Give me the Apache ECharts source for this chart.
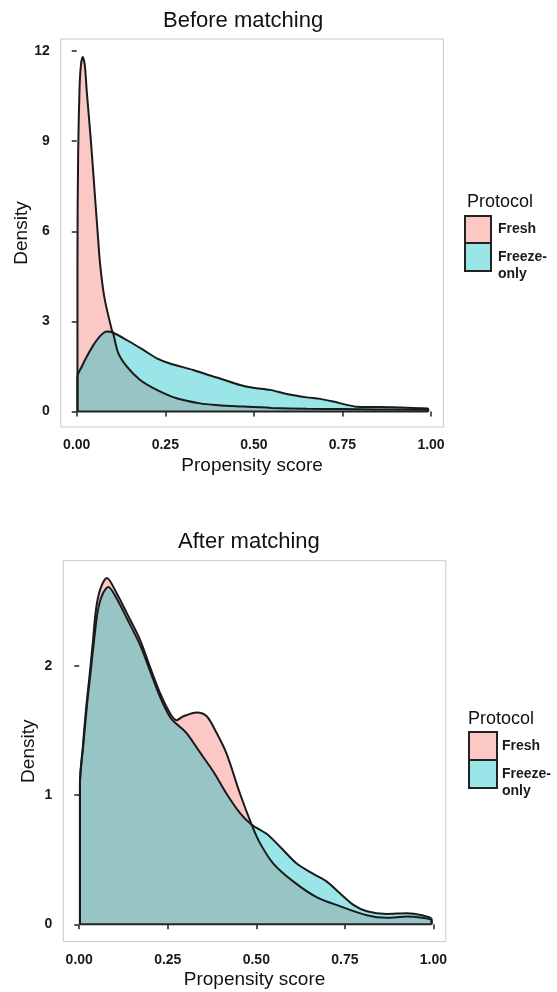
<!DOCTYPE html>
<html>
<head>
<meta charset="utf-8">
<script src="https://cdn.jsdelivr.net/npm/echarts@6/dist/echarts.min.js"></script>
<style>
html,body{margin:0;padding:0;background:#fff;}
#chart{width:557px;height:992px;}
</style>
</head>
<body>
<div id="chart"></div>
<script>
// ---- data ----
var panelTitles = ['Before matching', 'After matching'];
var seriesNames = ['Fresh', 'Freeze-only'];
var legendLabels = ['Fresh', 'Freeze-\nonly'];
var legendTitle = 'Protocol';
var xAxisTitle = 'Propensity score';
var yAxisTitle = 'Density';
var xTicks = [0, 0.25, 0.5, 0.75, 1];
var yTicksBefore = [0, 3, 6, 9, 12];
var yTicksAfter = [0, 1, 2];

// Before matching – density of Fresh
var beforeFresh = [
  [0.002, 0], [0.002, 5.0], [0.004, 8.6], [0.008, 10.8], [0.012, 11.55], [0.017, 11.8],
  [0.023, 11.5], [0.028, 10.7], [0.040, 9.0], [0.050, 7.4], [0.060, 5.8], [0.066, 4.9],
  [0.078, 3.8], [0.099, 2.71], [0.103, 2.6], [0.117, 1.95], [0.141, 1.5], [0.179, 1.05],
  [0.226, 0.72], [0.282, 0.44], [0.348, 0.27], [0.40, 0.21], [0.46, 0.17], [0.55, 0.12],
  [0.65, 0.09], [0.75, 0.08], [0.85, 0.07], [0.95, 0.06], [0.992, 0.05], [0.992, 0]
];
// Before matching – density of Freeze-only
var beforeFreeze = [
  [0.002, 0], [0.002, 1.16], [0.014, 1.49], [0.028, 1.82], [0.047, 2.21], [0.066, 2.51],
  [0.085, 2.66], [0.103, 2.62], [0.141, 2.38], [0.188, 2.05], [0.226, 1.77], [0.263, 1.60],
  [0.329, 1.38], [0.386, 1.16], [0.404, 1.10], [0.461, 0.88], [0.498, 0.79], [0.546, 0.72],
  [0.593, 0.58], [0.649, 0.47], [0.687, 0.42], [0.724, 0.33], [0.762, 0.22], [0.790, 0.16],
  [0.828, 0.15], [0.894, 0.14], [0.969, 0.11], [0.992, 0.10], [0.992, 0]
];
// After matching – density of Fresh
var afterFresh = [
  [0.002, 0], [0.002, 1.10], [0.010, 1.37], [0.019, 1.66], [0.029, 1.92], [0.038, 2.17],
  [0.047, 2.43], [0.059, 2.59], [0.078, 2.68], [0.106, 2.56], [0.134, 2.41], [0.172, 2.20],
  [0.200, 1.99], [0.228, 1.79], [0.257, 1.63], [0.275, 1.58], [0.294, 1.61], [0.332, 1.64],
  [0.360, 1.61], [0.388, 1.48], [0.416, 1.32], [0.454, 1.01], [0.487, 0.77], [0.510, 0.63],
  [0.548, 0.47], [0.605, 0.33], [0.670, 0.21], [0.736, 0.14], [0.812, 0.07], [0.868, 0.05],
  [0.925, 0.06], [0.995, 0.03], [0.995, 0]
];
// After matching – density of Freeze-only
var afterFreeze = [
  [0.002, 0], [0.002, 1.08], [0.012, 1.40], [0.022, 1.70], [0.032, 1.95], [0.042, 2.20],
  [0.052, 2.42], [0.065, 2.55], [0.082, 2.61], [0.106, 2.52], [0.134, 2.37], [0.172, 2.16],
  [0.200, 1.96], [0.228, 1.76], [0.257, 1.60], [0.275, 1.55], [0.303, 1.48], [0.341, 1.33],
  [0.379, 1.18], [0.416, 1.01], [0.454, 0.86], [0.487, 0.77], [0.529, 0.70], [0.567, 0.60],
  [0.614, 0.47], [0.661, 0.39], [0.699, 0.33], [0.736, 0.24], [0.774, 0.15], [0.812, 0.10],
  [0.868, 0.08], [0.925, 0.085], [0.995, 0.04], [0.995, 0]
];

// ---- styling ----
var FONT = '"Liberation Sans", Arial, Helvetica, sans-serif';
var freshFill = 'rgba(248,118,109,0.4)';
var freezeFill = 'rgba(0,191,196,0.4)';
var outline = '#1a1a1a';

function baseline(d) { return [[d[0][0], 0], [d[d.length - 1][0], 0]]; }

function xAxisCfg(gi) {
  return {
    type: 'value', gridIndex: gi, min: -0.045, max: 1.035,
    axisLine: { show: false },
    axisTick: { show: true, length: 5, customValues: xTicks, lineStyle: { color: '#222', width: 1.5 } },
    axisLabel: { customValues: xTicks, margin: 11, fontSize: 14, fontWeight: 'bold', color: '#1a1a1a', fontFamily: FONT,
      formatter: function (v) { return v.toFixed(2); } },
    splitLine: { show: false },
    name: xAxisTitle, nameLocation: 'middle', nameGap: 29, nameMoveOverlap: false,
    nameTextStyle: { fontSize: 19, color: '#111', fontFamily: FONT }
  };
}
function yAxisCfg(gi, min, max, ticks, gap) {
  return {
    type: 'value', gridIndex: gi, min: min, max: max,
    axisLine: { show: false },
    axisTick: { show: true, length: 5, customValues: ticks, lineStyle: { color: '#222', width: 1.5 } },
    axisLabel: { customValues: ticks, margin: 11, fontSize: 14, fontWeight: 'bold', color: '#1a1a1a', fontFamily: FONT },
    splitLine: { show: false },
    name: yAxisTitle, nameLocation: 'middle', nameGap: gap, nameRotate: 90, nameMoveOverlap: false,
    nameTextStyle: { fontSize: 19, color: '#111', fontFamily: FONT }
  };
}
function areaSeries(name, data, gi, fill) {
  return {
    type: 'line', name: name, xAxisIndex: gi, yAxisIndex: gi, data: data,
    smooth: 0.3, symbol: 'none', showSymbol: false,
    lineStyle: { color: outline, width: 2 },
    itemStyle: { color: fill },
    areaStyle: { color: fill, opacity: 1 },
    animation: false
  };
}
function baseSeries(data, gi) {
  return {
    type: 'line', name: 'baseline', xAxisIndex: gi, yAxisIndex: gi, data: baseline(data),
    symbol: 'none', lineStyle: { color: '#222', width: 2 }, silent: true, animation: false
  };
}
// legend keys (drawn as graphic elements so the two-line label sits like ggplot's)
function legendGraphic(x, y, w, h1, h2, tx, lineH) {
  var keyStyle = { stroke: '#222', lineWidth: 2 };
  var txtFont = 'bold 14px ' + FONT;
  return [
    { type: 'rect', shape: { x: x, y: y, width: w, height: h1 }, style: Object.assign({ fill: freshFill }, keyStyle), silent: true },
    { type: 'rect', shape: { x: x, y: y + h1, width: w, height: h2 }, style: Object.assign({ fill: freezeFill }, keyStyle), silent: true },
    { type: 'text', x: tx, y: y + h1 / 2, style: { text: legendLabels[0], font: txtFont, fill: '#1a1a1a', verticalAlign: 'middle', align: 'left' }, silent: true },
    { type: 'text', x: tx, y: y + h1 + h2 / 2 - lineH / 2, style: { text: legendLabels[1], font: txtFont, lineHeight: lineH, fill: '#1a1a1a', verticalAlign: 'top', align: 'left' }, silent: true }
  ];
}

var titleStyle = { fontSize: 22, fontWeight: 'normal', color: '#111', fontFamily: FONT };
var legTitleStyle = { fontSize: 18, fontWeight: 'normal', color: '#111', fontFamily: FONT };

var chart = echarts.init(document.getElementById('chart'), null, { renderer: 'canvas' });
chart.setOption({
  backgroundColor: '#fff',
  animation: false,
  title: [
    { text: panelTitles[0], left: 163, top: 10, padding: 0, textStyle: titleStyle },
    { text: panelTitles[1], left: 178, top: 531, padding: 0, textStyle: titleStyle },
    { text: legendTitle, left: 467, top: 193, padding: 0, textStyle: legTitleStyle },
    { text: legendTitle, left: 468, top: 710, padding: 0, textStyle: legTitleStyle }
  ],
  graphic: legendGraphic(465, 216, 26, 27, 28, 498, 17.5).concat(legendGraphic(469, 732, 28, 28, 28, 502, 17.5)),
  grid: [
    { left: 60.8, top: 39, width: 382.6, height: 388, show: true, borderColor: '#c8c8c8', borderWidth: 1, backgroundColor: 'transparent' },
    { left: 63.3, top: 560.7, width: 382.5, height: 381, show: true, borderColor: '#c8c8c8', borderWidth: 1, backgroundColor: 'transparent' }
  ],
  xAxis: [xAxisCfg(0), xAxisCfg(1)],
  yAxis: [yAxisCfg(0, -0.516, 12.40, yTicksBefore, 30), yAxisCfg(1, -0.135, 2.814, yTicksAfter, 25)],
  series: [
    areaSeries(seriesNames[0], beforeFresh, 0, freshFill),
    areaSeries(seriesNames[1], beforeFreeze, 0, freezeFill),
    baseSeries(beforeFresh, 0),
    areaSeries(seriesNames[0], afterFresh, 1, freshFill),
    areaSeries(seriesNames[1], afterFreeze, 1, freezeFill),
    baseSeries(afterFresh, 1)
  ]
});
</script>
</body>
</html>
